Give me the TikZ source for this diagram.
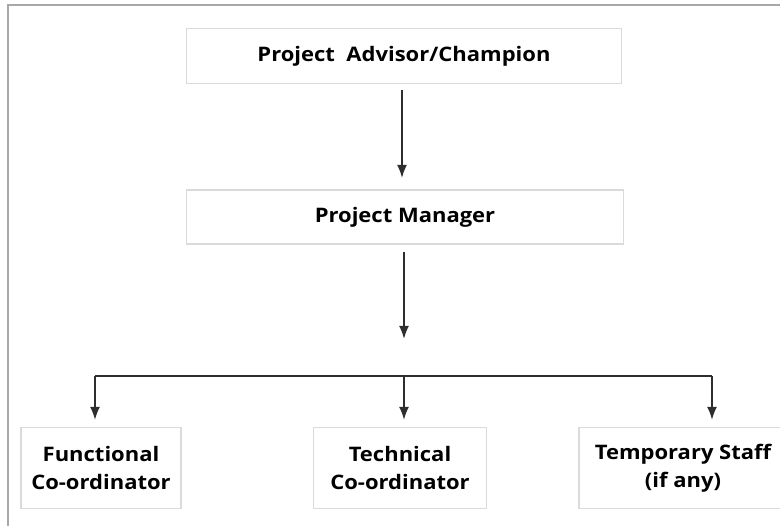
\documentclass[tikz,border=0pt]{standalone}
\usepackage{fontspec}
\setmainfont[FakeStretch=1.1]{Open Sans}
\usepackage{tikz}
\usetikzlibrary{arrows.meta}

\definecolor{boxgray}{HTML}{DADADA}
\definecolor{framegray}{HTML}{A8A8A8}
\definecolor{linegray}{HTML}{2E2E2E}

\begin{document}
\begin{tikzpicture}[x=1pt,y=-1pt]
	    \tikzstyle{every node}=[draw=boxgray,line width=1.2pt,align=center,inner sep=0pt,font=\bfseries\fontsize{20}{28}\selectfont]
	    \tikzstyle{link}=[-{Latex[length=13pt,width=10pt]},line width=1.8pt,draw=linegray]
	    \useasboundingbox (0,0) rectangle (780,526);
	    \clip (0,0) rectangle (780,526);
	    % frame
	    \draw[framegray,line width=2pt] (8,526) -- (8,5) -- (780,5);
	    % boxes
	    \node[minimum width=435pt,minimum height=55pt] (advisor) at (404,56) {Project\ \ Advisor/Champion};
	    \node[minimum width=437pt,minimum height=54pt] (manager) at (405,217) {Project Manager};
	    \node[minimum width=160pt,minimum height=81pt] (functional) at (101,468) {Functional\\Co-ordinator};
	    \node[minimum width=173pt,minimum height=81pt] (technical) at (400,468) {Technical\\Co-ordinator};
	    \node[minimum width=208pt,minimum height=81pt] (temporary) at (683,468) {Temporary Staff\\(if any)};
	    % arrow ends and bus
	    \coordinate (tipone) at (402,178);
	    \coordinate (tiptwo) at (404,339);
	    \coordinate (busleft) at (95,376);
	    \coordinate (busmid) at (404,376);
	    \coordinate (busright) at (712,376);
	    \draw[link,shorten <=6pt] (advisor.south -| tipone) -- (tipone);
	    \draw[link,shorten <=7pt] (manager.south -| tiptwo) -- (tiptwo);
	    \draw[line width=1.8pt,draw=linegray] (busleft) -- (busright);
	    \draw[link,shorten >=7pt] (busleft) -- (busleft |- functional.north);
	    \draw[link,shorten >=7pt] (busmid) -- (busmid |- technical.north);
	    \draw[link,shorten >=7pt] (busright) -- (busright |- temporary.north);
\end{tikzpicture}
\end{document}
